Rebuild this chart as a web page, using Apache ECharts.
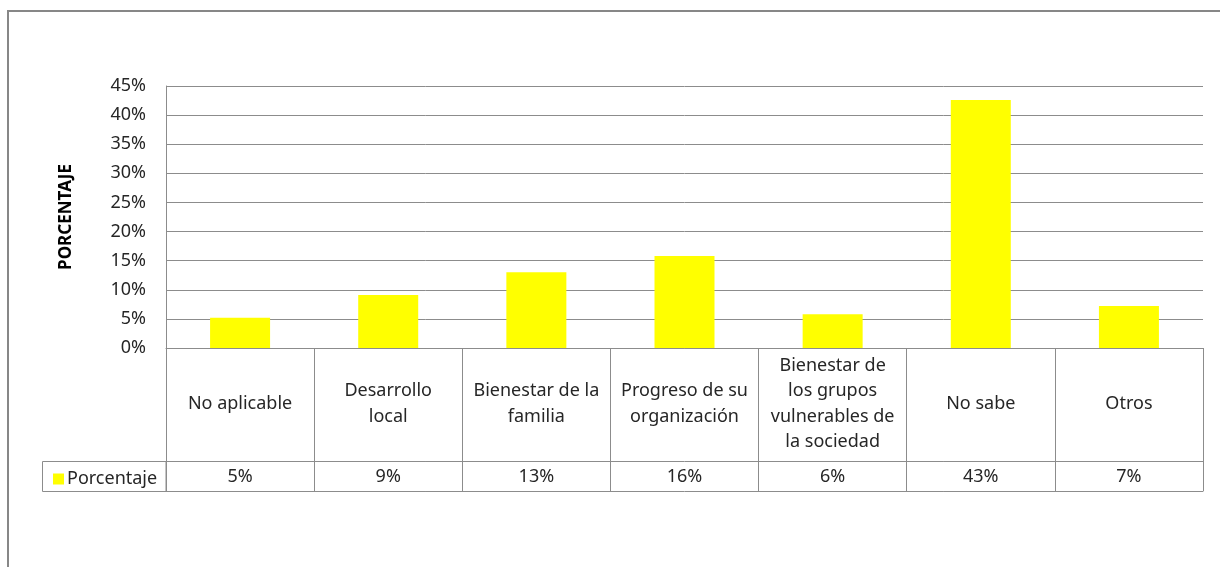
<!DOCTYPE html>
<html>
<head>
<meta charset="utf-8">
<script src="https://cdn.jsdelivr.net/npm/echarts@6/dist/echarts.min.js"></script>
<style>
  html, body { margin: 0; padding: 0; background: #fff; }
  #chart { width: 1224px; height: 567px; }
</style>
</head>
<body>
<div id="chart"></div>
<script>
// categorías del eje X (saltos de línea como en la tabla original)
const categories = [
  'No aplicable',
  'Desarrollo\nlocal',
  'Bienestar de la\nfamilia',
  'Progreso de su\norganización',
  'Bienestar de\nlos grupos\nvulnerables de\nla sociedad',
  'No sabe',
  'Otros'
];
const values = [5.2, 9.1, 13.0, 15.8, 5.8, 42.6, 7.2];
// fila de la tabla de datos
const tableLabels = ['5%', '9%', '13%', '16%', '6%', '43%', '7%'];
const seriesName = 'Porcentaje';

const lineGray = '#8c8c8c';
const textColor = '#262626';
const font = '"Noto Sans", sans-serif';

const chart = echarts.init(document.getElementById('chart'));

const options = {
  animation: false,
  textStyle: { fontFamily: font },
  grid: {
    left: 166,
    right: 21,
    top: 86,
    bottom: 219
  },
  legend: {
    data: [seriesName],
    left: 48,
    top: 465,
    icon: 'rect',
    itemWidth: 11,
    itemHeight: 11,
    itemGap: 0,
    selectedMode: false,
    textStyle: { color: textColor, fontSize: 18, fontFamily: font, padding: [0, 0, 0, -2] }
  },
  xAxis: [
    {
      type: 'category',
      data: categories,
      position: 'bottom',
      axisLine: { show: true, lineStyle: { color: lineGray, width: 1 } },
      axisTick: { show: true, alignWithLabel: false, length: 143, lineStyle: { color: lineGray } },
      axisLabel: {
        interval: 0,
        margin: 56,
        verticalAlign: 'middle',
        color: textColor,
        fontSize: 18,
        lineHeight: 25.5
      },
      splitLine: { show: false }
    },
    {
      type: 'category',
      data: tableLabels,
      position: 'bottom',
      offset: 113,
      axisLine: { show: true, lineStyle: { color: lineGray, width: 1 } },
      axisTick: { show: false },
      axisLabel: {
        interval: 0,
        margin: 16,
        verticalAlign: 'middle',
        color: textColor,
        fontSize: 18
      }
    },
    {
      type: 'category',
      data: tableLabels,
      position: 'bottom',
      offset: 143,
      axisLine: { show: true, lineStyle: { color: lineGray, width: 1 } },
      axisTick: { show: false },
      axisLabel: { show: false }
    }
  ],
  yAxis: {
    type: 'value',
    min: 0,
    max: 45,
    interval: 5,
    name: 'PORCENTAJE',
    nameLocation: 'middle',
    nameGap: 91,
    nameRotate: 90,
    nameTextStyle: { color: '#000', fontSize: 17, fontWeight: 'bold', fontFamily: font },
    axisLine: { show: true, lineStyle: { color: lineGray } },
    axisTick: { show: false },
    axisLabel: {
      formatter: '{value}%',
      margin: 20,
      color: textColor,
      fontSize: 18
    },
    splitLine: { show: true, lineStyle: { color: lineGray, width: 1 } }
  },
  series: [
    {
      name: seriesName,
      type: 'bar',
      xAxisIndex: 0,
      data: values,
      barWidth: 60,
      itemStyle: { color: '#ffff00' }
    }
  ],
  graphic: [
    // marco exterior del gráfico
    {
      type: 'polyline',
      shape: { points: [[8, 600], [8, 11], [1220, 11]] },
      style: { stroke: '#878787', lineWidth: 2, fill: null },
      silent: true
    },
    // celda de la leyenda en la tabla
    {
      type: 'rect',
      shape: { x: 42.5, y: 461.5, width: 123.5, height: 30 },
      style: { stroke: lineGray, lineWidth: 1, fill: null },
      silent: true
    }
  ]
};

chart.setOption(options);
window.addEventListener('resize', function () {
  chart && chart.resize();
});
</script>
</body>
</html>
